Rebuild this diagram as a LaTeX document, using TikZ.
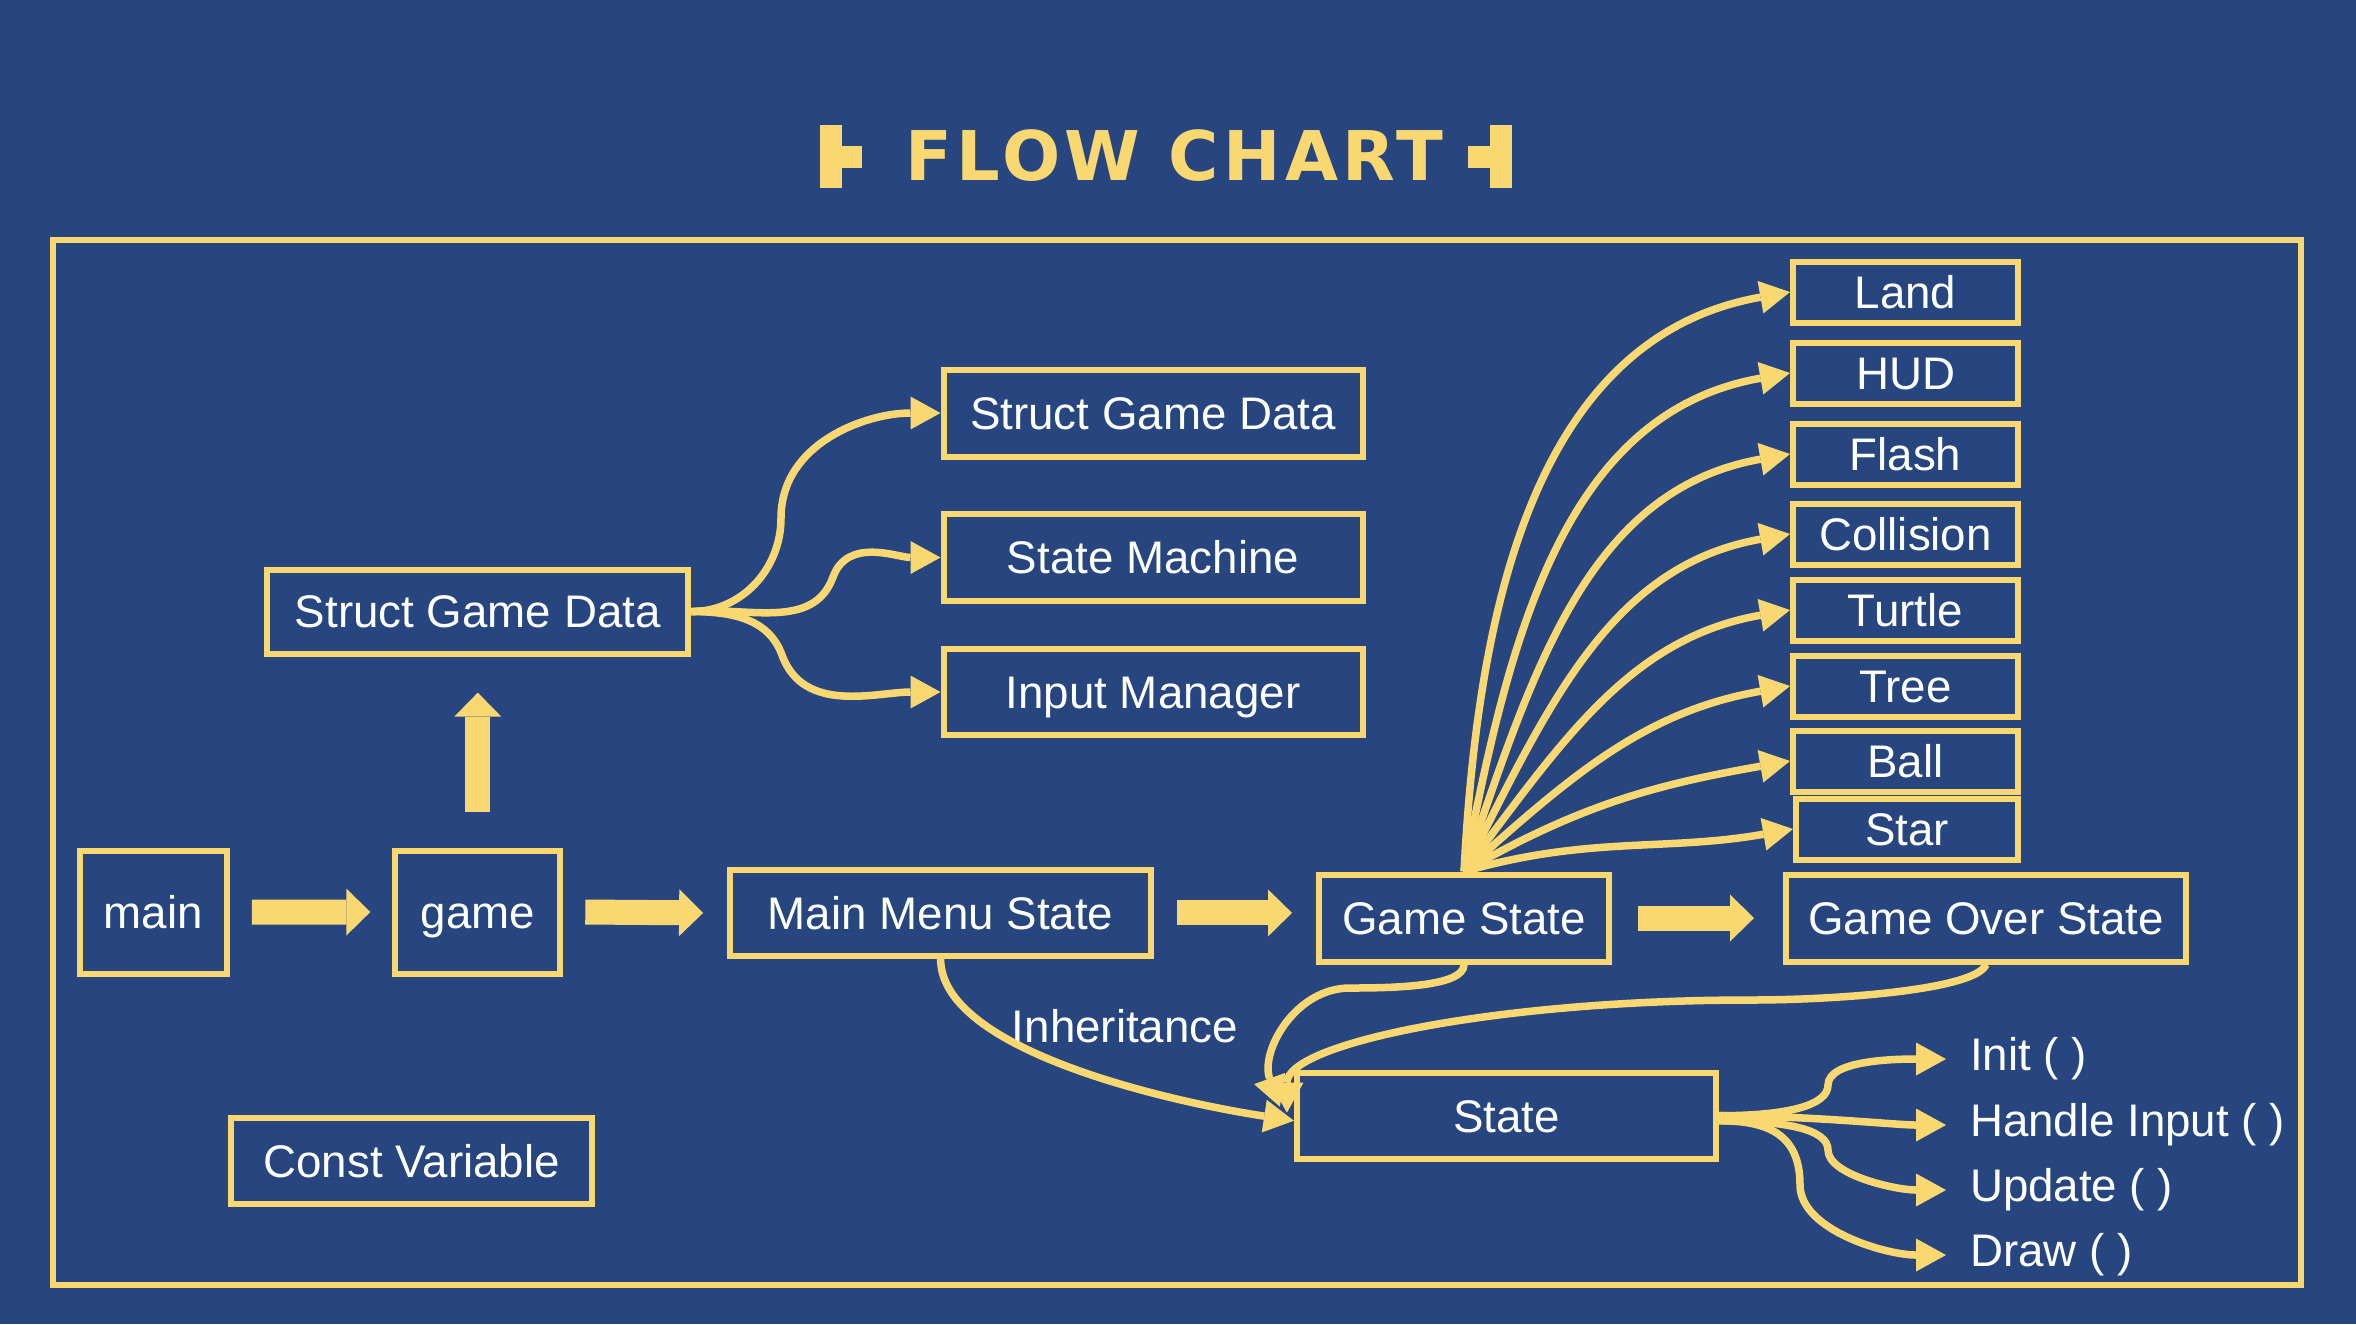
\documentclass[tikz,border=0pt]{standalone}
\usepackage{fontspec}
\setmainfont{Liberation Sans}
\newfontfamily\titlefont{DejaVu Sans}[LetterSpace=6.5]
\usetikzlibrary{arrows.meta}
\definecolor{bgblue}{RGB}{39,70,128}
\definecolor{gold}{RGB}{249,216,114}

\begin{document}
\begin{tikzpicture}[
  stbox/.style={draw=gold, line width=0.06cm, text=white, inner sep=0pt, text height=9.6pt, text depth=0.3pt, minimum height=0.86cm, font=\fontsize{13}{15}\selectfont},
  itembox/.style={stbox, minimum width=2.25cm, minimum height=0.61cm},
  lbl/.style={text=white, inner sep=0pt, font=\fontsize{13}{15}\selectfont},
  methodlbl/.style={lbl, anchor=west, outer xsep=0.24cm},
  fatarrow/.style={draw=gold, line width=0.25cm, -{Triangle[length=0.24cm, width=0.47cm, line width=0pt]}},
  curvy/.style={draw=gold, line width=0.075cm, -{Triangle[length=0.3cm, width=0.33cm, line width=0pt]}}
]
\useasboundingbox (0,0) rectangle (23.56,-13.24);
\fill[bgblue] (0,0) rectangle (23.56,-13.24);

\fill[gold] (8.20,-1.25) rectangle (8.415,-1.88);
\fill[gold] (8.415,-1.46) rectangle (8.62,-1.68);
\fill[gold] (14.90,-1.25) rectangle (15.12,-1.88);
\fill[gold] (14.68,-1.46) rectangle (14.90,-1.68);
\node[text=gold, inner sep=0pt, font=\titlefont\bfseries\fontsize{19.5}{22}\selectfont] (title) at (11.745,-1.56) {FLOW CHART};

\draw[gold, line width=0.06cm] (0.526,-2.404) rectangle (23.005,-12.847);

\node[stbox, minimum width=1.47cm, minimum height=1.23cm] (main) at (1.533,-9.121) {main};
\node[stbox, minimum width=1.65cm, minimum height=1.23cm] (game) at (4.778,-9.12) {game};
\node[stbox, minimum width=4.21cm] (mms) at (9.406,-9.129) {Main Menu State};
\node[stbox, minimum width=2.90cm, minimum height=0.87cm] (gs) at (14.64,-9.18) {Game State};
\node[stbox, minimum width=4.00cm, minimum height=0.87cm] (gos) at (19.86,-9.18) {Game Over State};
\node[stbox, minimum width=4.21cm, minimum height=0.84cm] (sgdl) at (4.778,-6.116) {Struct Game Data};
\node[stbox, minimum width=4.19cm, minimum height=0.87cm] (sgdr) at (11.53,-4.13) {Struct Game Data};
\node[stbox, minimum width=4.19cm, minimum height=0.87cm] (sm) at (11.53,-5.575) {State Machine};
\node[stbox, minimum width=4.19cm] (im) at (11.53,-6.92) {Input Manager};
\node[stbox, minimum width=3.61cm] (cv) at (4.117,-11.608) {Const Variable};
\node[stbox, minimum width=4.19cm] (st) at (15.064,-11.157) {State};

\foreach \n/\t/\y in {land/Land/2.92, hud/HUD/3.73, flash/Flash/4.54, coll/Collision/5.34, turtle/Turtle/6.10, tree/Tree/6.86, ball/Ball/7.61}
  \node[itembox] (\n) at (19.055,-\y) {\t};
\node[itembox, minimum width=2.22cm] (star) at (19.07,-8.29) {Star};

\node[methodlbl] (init) at (19.46,-10.59) {Init ( )};
\node[methodlbl] (hi) at (19.46,-11.25) {Handle Input ( )};
\node[methodlbl] (upd) at (19.46,-11.90) {Update ( )};
\node[methodlbl] (drw) at (19.46,-12.55) {Draw ( )};
\node[lbl] (inh) at (11.25,-10.26) {Inheritance};

\draw[fatarrow] ([xshift=0.22cm]main.east) -- ([xshift=-0.22cm]game.west);
\draw[fatarrow] ([xshift=0.22cm]game.east) -- ([xshift=-0.24cm]mms.west);
\draw[fatarrow] ([yshift=0.36cm]game.north) -- ([yshift=-0.36cm]sgdl.south);
\draw[fatarrow] ([xshift=0.23cm]mms.east) -- ([xshift=-0.24cm]gs.west |- mms.east);
\draw[fatarrow] ([xshift=0.26cm]gs.east) -- ([xshift=-0.29cm]gos.west);

\draw[curvy] (sgdl.east) to[out=0,in=-90] (7.81,-5.18) to[out=90,in=180] (sgdr.west);
\draw[curvy] (sgdl.east) to[out=5,in=-110] (8.33,-5.77) to[out=70,in=180] (sm.west);
\draw[curvy] (sgdl.east) to[out=0,in=110] (7.82,-6.55) to[out=-70,in=180] (im.west);

\foreach \n/\a in {land/87, hud/79, flash/71, coll/63, turtle/53, tree/42, ball/30, star/16}
  \draw[curvy] (gs.north) to[out=\a,in=190] (\n.west);

\draw[curvy] (mms.south) .. controls +(0,-0.9) and +(-1.3,0.2) .. ([yshift=-0.05cm]st.west);
\draw[curvy] (gs.south) .. controls +(0,-0.22) and +(0.45,0) .. (13.50,-9.88) .. controls +(-0.55,0) and +(-0.2,0.55) .. ([xshift=-0.14cm,yshift=0.09cm]st.west);
\draw[curvy] (gos.south) .. controls +(-0.1,-0.25) and +(0.9,0) .. (17.5,-10.0) .. controls +(-2.5,0) and +(0,0.7) .. ([xshift=-0.07cm,yshift=0.03cm]st.west);

\draw[curvy] (st.east) .. controls +(0.7,0) and +(0,-0.2) .. (18.28,-10.85) .. controls +(0,0.25) and +(-0.5,0) .. (init.west);
\draw[curvy] (st.east) .. controls +(0.9,0) and +(-0.5,0) .. (hi.west);
\draw[curvy] ([yshift=-0.05cm]st.east) .. controls +(0.7,0) and +(0,0.2) .. (18.28,-11.5) .. controls +(0,-0.25) and +(-0.5,0) .. (upd.west);
\draw[curvy] ([yshift=-0.05cm]st.east) .. controls +(0.5,0) and +(0,0.5) .. (18.0,-11.85) .. controls +(0,-0.45) and +(-0.6,0) .. (drw.west);
\end{tikzpicture}
\end{document}
